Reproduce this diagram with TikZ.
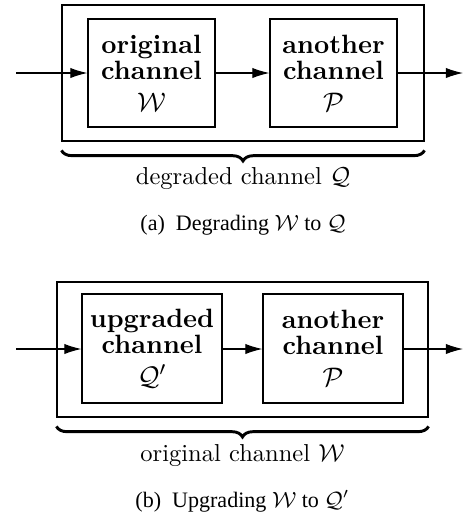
\documentclass[tikz,border=0pt]{standalone}
\usepackage{fontspec}
\newfontfamily\capfont{Liberation Serif}
\usetikzlibrary{arrows.meta,decorations.pathreplacing}
\begin{document}
\begin{tikzpicture}[x=0.408pt,y=-0.408pt,
  outerbox/.style={draw,line width=0.45pt,inner sep=0pt},
  chbox/.style={draw,line width=0.45pt,inner sep=0pt,align=center,
    font=\bfseries\fontsize{10.8}{10.8}\selectfont},
  conn/.style={line width=0.45pt,-{Latex[length=7pt,width=4.2pt]}},
  bracestyle/.style={decorate,decoration={brace,mirror,amplitude=4.3pt},line width=1.2pt},
  lbl/.style={inner sep=0pt,font=\fontsize{10}{12}\selectfont},
  captext/.style={inner sep=0pt,font=\capfont\fontsize{9}{11}\selectfont}]
\useasboundingbox (0,0) rectangle (466,515);
% ---------- (a) ----------
\node[outerbox,minimum width=147.7pt,minimum height=55.5pt] (oA) at (243,73) {};
\node[chbox,minimum width=51.8pt,minimum height=44.1pt] (a1) at (151.5,73) {original\\channel\\[2.2pt]$\mathcal{W}$};
\node[chbox,minimum width=51.8pt,minimum height=44.1pt] (a2) at (333.5,73) {another\\channel\\[2.2pt]$\mathcal{P}$};
\coordinate (ain) at (16,73);
\coordinate (aout) at (463,73);
\draw[conn] (ain) -- (ain -| a1.west);
\draw[conn] (a1.east |- ain) -- (a2.west |- ain);
\draw[conn] (a2.east |- ain) -- (aout);
\draw[bracestyle] ([yshift=-3.6pt]oA.south west) -- ([yshift=-3.6pt]oA.south east);
\node[lbl] (aL) at (243,179) {degraded channel $\mathcal{Q}$};
\node[captext] (aC) at (243,225) {(a)\ \ Degrading $\mathcal{W}$ to $\mathcal{Q}$};
% ---------- (b) ----------
\node[outerbox,minimum width=151.4pt,minimum height=55.1pt] (oB) at (242.5,349.5) {};
\node[chbox,minimum width=57.1pt,minimum height=44.5pt] (b1) at (152,348.5) {upgraded\\channel\\[2.2pt]$\mathcal{Q}'$};
\node[chbox,minimum width=57.1pt,minimum height=44.5pt] (b2) at (333,348.5) {another\\channel\\[2.2pt]$\mathcal{P}$};
\coordinate (bin) at (16,349);
\coordinate (bout) at (463,349);
\draw[conn] (bin) -- (bin -| b1.west);
\draw[conn] (b1.east |- bin) -- (b2.west |- bin);
\draw[conn] (b2.east |- bin) -- (bout);
\draw[bracestyle] ([yshift=-3.6pt]oB.south west) -- ([yshift=-3.6pt]oB.south east);
\node[lbl] (bL) at (242.5,456) {original channel $\mathcal{W}$};
\node[captext] (bC) at (242.5,501) {(b)\ \ Upgrading $\mathcal{W}$ to $\mathcal{Q}'$};
\end{tikzpicture}
\end{document}
